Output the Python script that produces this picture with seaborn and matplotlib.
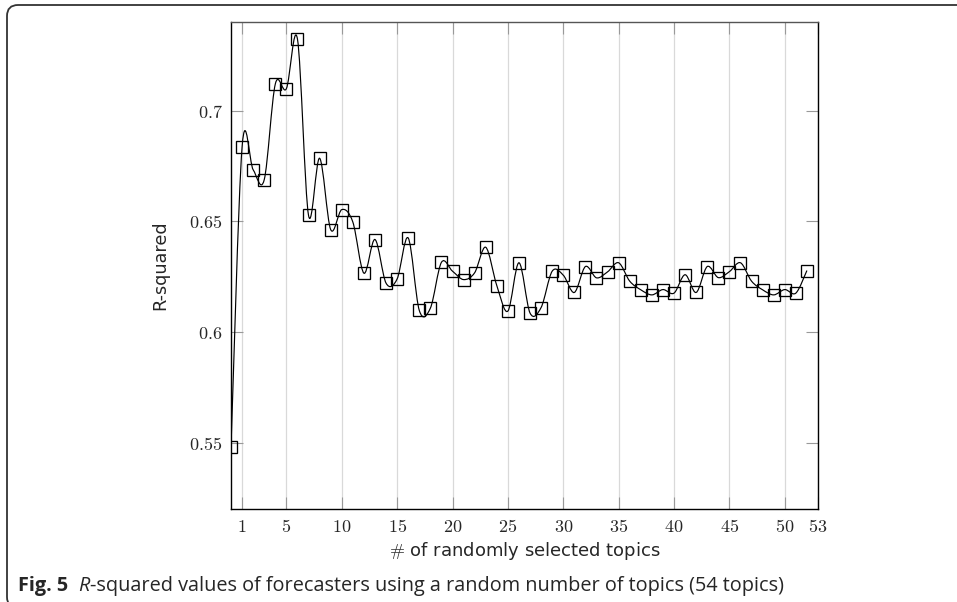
import numpy as np
import pandas as pd
import matplotlib
matplotlib.use('Agg')
import matplotlib.pyplot as plt
import seaborn as sns
from matplotlib.path import Path
from matplotlib.patches import PathPatch, FancyBboxPatch

# ---------------- data ----------------
n_topics = list(range(0, 53))
r_squared = [0.548, 0.6835, 0.6733, 0.6688, 0.712, 0.7099, 0.7323, 0.6527, 0.6785, 0.6463,
             0.6553, 0.6497, 0.6266, 0.6418, 0.6221, 0.624, 0.6425, 0.6098, 0.6108, 0.6315,
             0.6275, 0.6237, 0.6268, 0.6383, 0.621, 0.6095, 0.6313, 0.6086, 0.6111, 0.6275,
             0.6257, 0.6179, 0.6296, 0.6245, 0.6272, 0.6313, 0.623, 0.6191, 0.6168, 0.6192,
             0.6176, 0.6259, 0.6179, 0.6296, 0.6246, 0.6273, 0.6313, 0.623, 0.6191, 0.6168,
             0.6192, 0.6176, 0.6278]
x_ticks = [1, 5, 10, 15, 20, 25, 30, 35, 40, 45, 50, 53]
y_ticks = [0.55, 0.6, 0.65, 0.7]
y_tick_labels = ['0.55', '0.6', '0.65', '0.7']
x_label = r'$\#$ of randomly selected topics'
y_label = 'R-squared'
caption_bold = 'Fig. 5'
caption_italic = 'R'
caption_rest = '-squared values of forecasters using a random number of topics (54 topics)'

# ---------------- style ----------------
sns.set_theme(style='white')
plt.rcParams['font.family'] = ['DejaVu Sans']
plt.rcParams['mathtext.fontset'] = 'cm'

W, H = 957, 602
fig = plt.figure(figsize=(W / 100, H / 100), dpi=100)
ax = fig.add_axes([231 / W, 1 - 509.3 / H, (818 - 231) / W, (509.3 - 22) / H])

df = pd.DataFrame({'n': n_topics, 'r2': r_squared})

# smooth curve (pgfplots "smooth" style) built from the data points
xs = np.asarray(df['n'], dtype=float)
ys = np.asarray(df['r2'], dtype=float)
k = 0.165
verts = [(xs[0], ys[0])]
codes = [Path.MOVETO]
npts = len(xs)
for i in range(npts - 1):
    im1 = max(i - 1, 0)
    ip2 = min(i + 2, npts - 1)
    c1 = (xs[i] + k * (xs[i + 1] - xs[im1]), ys[i] + k * (ys[i + 1] - ys[im1]))
    c2 = (xs[i + 1] - k * (xs[ip2] - xs[i]), ys[i + 1] - k * (ys[ip2] - ys[i]))
    verts += [c1, c2, (xs[i + 1], ys[i + 1])]
    codes += [Path.CURVE4, Path.CURVE4, Path.CURVE4]
ax.add_patch(PathPatch(Path(verts, codes), facecolor='none', edgecolor='black',
                       lw=0.85, zorder=3))

sns.lineplot(data=df, x='n', y='r2', ax=ax, linestyle='', marker='s',
             markersize=8.8, markerfacecolor='none', markeredgecolor='black',
             markeredgewidth=0.95, color='black', zorder=4)

ax.set_xlim(0, 53)
ax.set_ylim(0.52, 0.74)
ax.set_xticks(x_ticks)
ax.set_xticklabels([f'${t}$' for t in x_ticks], fontsize=13)
ax.set_yticks(y_ticks)
ax.set_yticklabels([f'${t}$' for t in y_tick_labels], fontsize=13)

ax.grid(axis='x', color='#d9d9d9', lw=0.9, zorder=0)
ax.grid(axis='y', visible=False)
ax.set_axisbelow(True)

ax.tick_params(axis='both', which='major', direction='in', length=8.5, width=0.8,
               color='#999999', top=True, right=True, labeltop=False, labelright=False,
               left=True, bottom=True)
ax.tick_params(axis='x', pad=6)
ax.tick_params(axis='y', pad=6)

for side in ['left', 'right', 'bottom']:
    ax.spines[side].set_color('black')
    ax.spines[side].set_linewidth(1.0)
ax.spines['top'].set_color('#555555')
ax.spines['top'].set_linewidth(1.0)

ax.set_xlabel('')
ax.set_ylabel('')
fig.text(525 / W, 1 - 551.5 / H, x_label, ha='center', va='center', fontsize=13,
         family='DejaVu Sans')
fig.text(160 / W, 1 - 265 / H, y_label, ha='center', va='center', rotation=90,
         fontsize=12.7, family='DejaVu Sans')

# frame around figure (rounded box, extending past right and bottom edges)
frame = FancyBboxPatch((0.07, -0.06), 12.0, 6.03,
                       boxstyle='round,pad=0,rounding_size=0.11',
                       transform=fig.dpi_scale_trans, facecolor='none',
                       edgecolor='#333333', lw=1.3, clip_on=False)
fig.add_artist(frame)

# caption
fig.canvas.draw()
renderer = fig.canvas.get_renderer()
base_y = 1 - 591 / H
cap_font = 'Open Sans'
cap_size = 14.3
t1 = fig.text(18 / W, base_y, caption_bold, fontweight='bold', family=cap_font,
              fontsize=cap_size, va='baseline', ha='left')
bb = t1.get_window_extent(renderer)
t2 = fig.text((bb.x1 + 10) / W, base_y, caption_italic, style='italic', family=cap_font,
              fontsize=cap_size, va='baseline', ha='left')
bb2 = t2.get_window_extent(renderer)
fig.text((bb2.x1 + 0.5) / W, base_y, caption_rest, family=cap_font,
         fontsize=cap_size, va='baseline', ha='left')

fig.savefig('out.png', dpi=100)
